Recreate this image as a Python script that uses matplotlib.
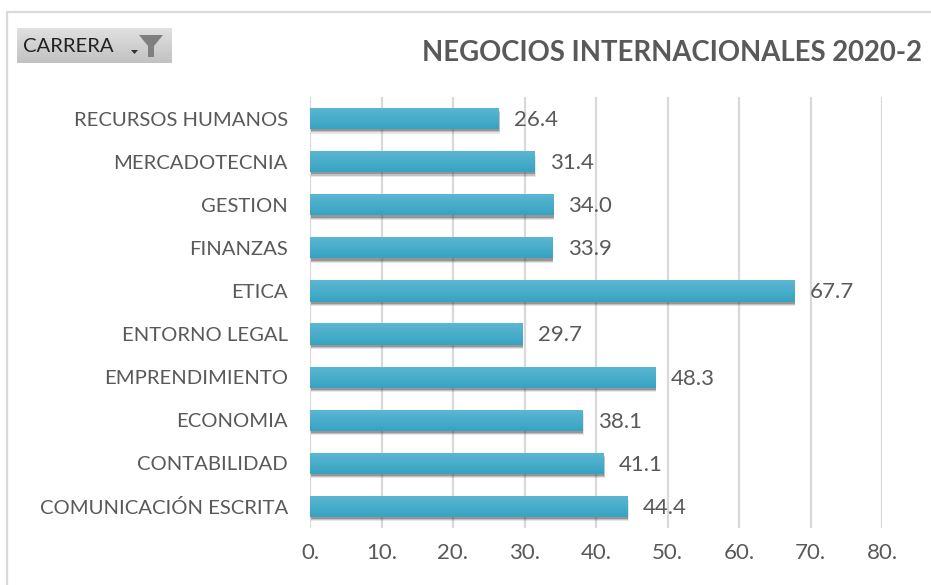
import numpy as np
import matplotlib
matplotlib.use('Agg')
import matplotlib.pyplot as plt
import matplotlib.patheffects as pe
from matplotlib.patches import Polygon
from matplotlib.colors import LinearSegmentedColormap

categories = ['COMUNICACIÓN ESCRITA', 'CONTABILIDAD', 'ECONOMIA', 'EMPRENDIMIENTO',
              'ENTORNO LEGAL', 'ETICA', 'FINANZAS', 'GESTION', 'MERCADOTECNIA', 'RECURSOS HUMANOS']
values = [44.4, 41.1, 38.1, 48.3, 29.7, 67.7, 33.9, 34.0, 31.4, 26.4]
x_ticks = [0, 10, 20, 30, 40, 50, 60, 70, 80]
x_tick_labels = ['0.', '10.', '20.', '30.', '40.', '50.', '60.', '70.', '80.']
title = 'NEGOCIOS INTERNACIONALES 2020-2'
filter_label = 'CARRERA'

W, H = 931, 585
plt.rcParams['font.family'] = ['Lato', 'DejaVu Sans']
fig = plt.figure(figsize=(W/100, H/100), dpi=100)
ax = fig.add_axes([310/W, 1-528/H, 572/W, 431/H])
TXT = '#595959'

ax.set_xlim(0, 80)
ax.set_ylim(-0.5, 9.5)
ax.grid(axis='x', color='#d9d9d9', lw=1.6)
ax.set_axisbelow(True)
for s in ax.spines.values():
    s.set_visible(False)
ax.set_xticks(x_ticks, x_tick_labels)
ax.set_yticks(range(len(categories)), categories)
ax.tick_params(length=0, labelcolor=TXT)
ax.tick_params(axis='y', pad=16, labelsize=14.6)
ax.tick_params(axis='x', pad=11, labelsize=16)

shadow = [pe.SimplePatchShadow(offset=o, shadow_rgbFace='#333333', alpha=a)
          for o, a in [((0.8, -3.2), 0.12), ((0.6, -2.4), 0.2), ((0.4, -1.6), 0.3)]]
bars = ax.barh(range(len(categories)), values, height=0.49, color='#45acc9', zorder=2,
               path_effects=shadow + [pe.Normal()])
cmap = LinearSegmentedColormap.from_list('b', ['#36a3c2', '#5cb8d3'])
grad = np.linspace(0, 1, 64).reshape(-1, 1)
for b in bars:
    im = ax.imshow(grad, cmap=cmap, origin='lower', aspect='auto', zorder=3,
                   extent=(b.get_x(), b.get_x()+b.get_width(), b.get_y(), b.get_y()+b.get_height()))
    im.set_clip_path(b)
ax.set_xlim(0, 80)
ax.set_ylim(-0.5, 9.5)

for i, v in enumerate(values):
    ax.annotate(f'{v:.1f}', (v, i), xytext=(11, -1), textcoords='offset points',
                va='center', ha='left', fontsize=16, color=TXT, zorder=5)

fig.text(922/W, 1-53/H, title, ha='right', va='center', fontsize=19.8, fontweight='bold', color=TXT)

# chart frame
ov = fig.add_axes([0, 0, 1, 1], zorder=-1)
ov.set_xlim(0, W); ov.set_ylim(H, 0); ov.axis('off')
ov.plot([7, 7, W], [H, 12, 12], color='#d9d9d9', lw=1.6)

# filter button
top = fig.add_axes([0, 0, 1, 1], zorder=5)
top.set_xlim(0, W); top.set_ylim(H, 0); top.axis('off'); top.patch.set_alpha(0)
btn = np.linspace(0, 1, 32).reshape(-1, 1)
top.imshow(btn, cmap=LinearSegmentedColormap.from_list('g', ['#e0e0e0', '#c2c2c2']),
           extent=(17, 172, 63, 28), aspect='auto')
top.set_xlim(0, W); top.set_ylim(H, 0)
top.text(23, 46, filter_label, fontsize=14.6, color='#222222', va='center', ha='left')
top.add_patch(Polygon([(139, 35), (163, 35), (154, 46), (154, 57), (148, 57), (148, 46)], color='#7f7f7f', lw=0))
top.add_patch(Polygon([(131, 50), (138, 50), (134.5, 54)], color='#333333', lw=0))

fig.savefig('out.png', dpi=100)
